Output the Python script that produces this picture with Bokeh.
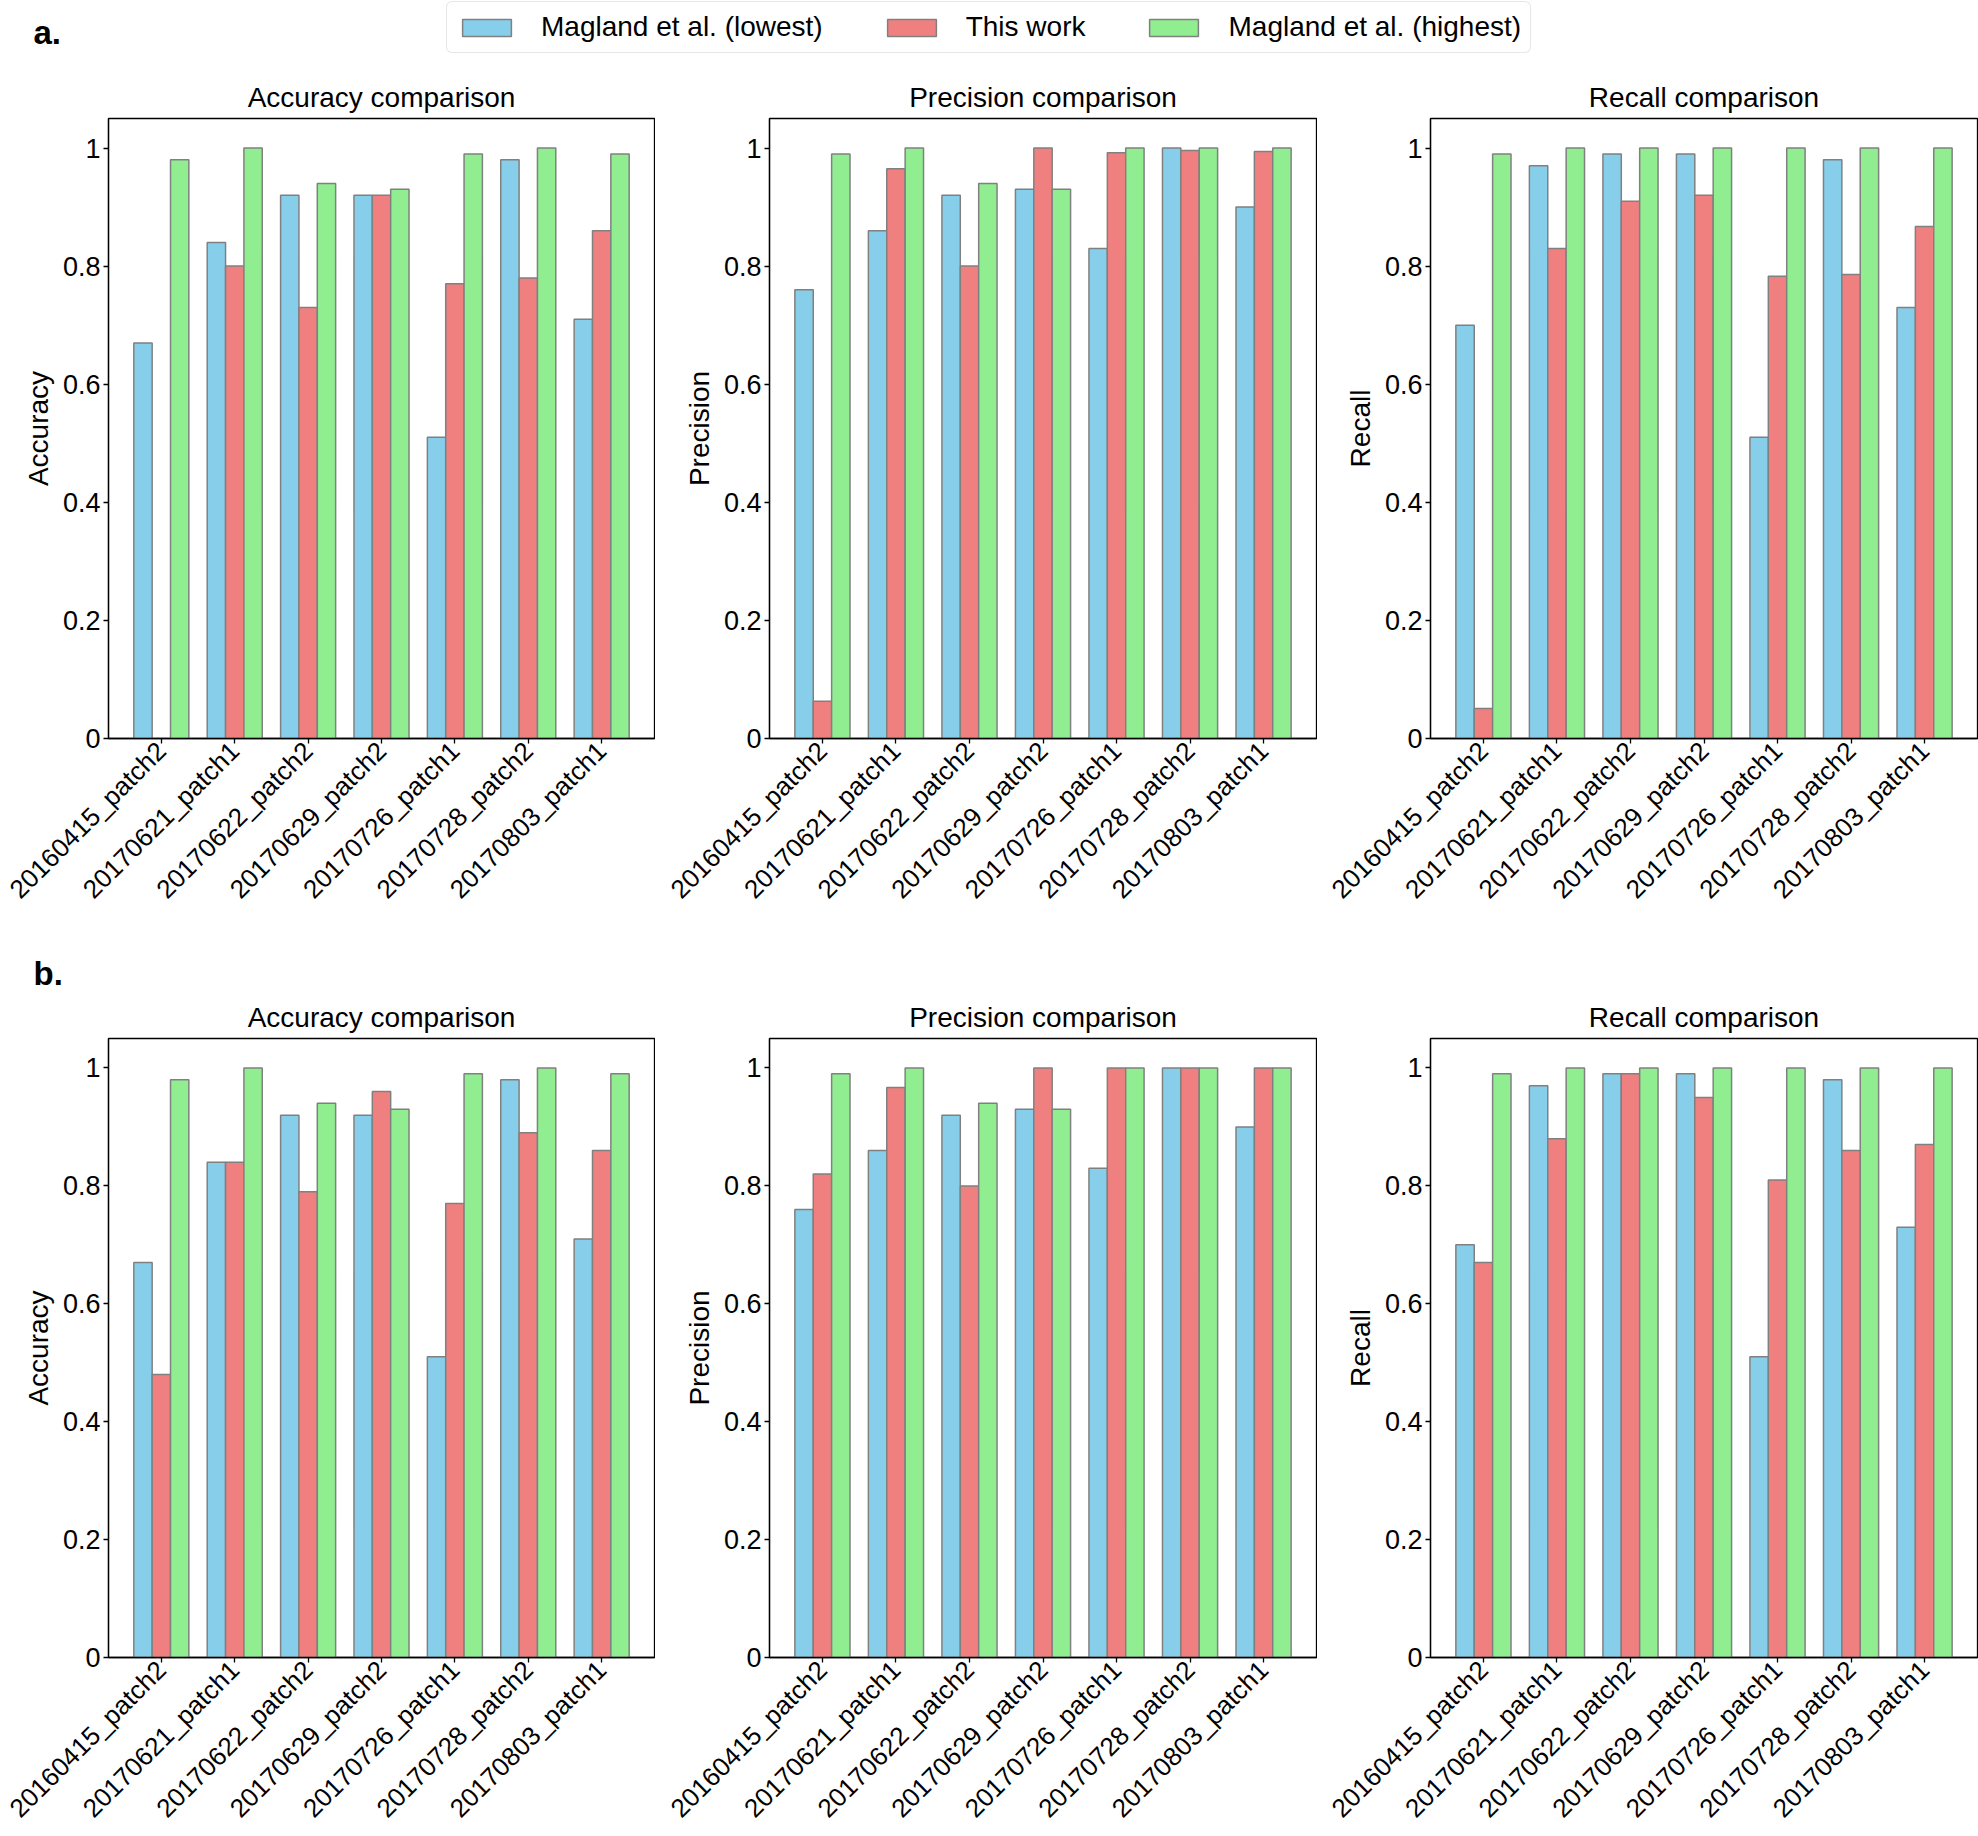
import math
import numpy as np
from bokeh.plotting import figure
from bokeh.models import (Range1d, FixedTicker, CustomJSTickFormatter, Legend,
                          LegendItem, Label)
from bokeh.layouts import column, row
from bokeh.embed import file_html
from bokeh.resources import INLINE

NAN = float("nan")

categories = ["20160415_patch2", "20170621_patch1", "20170622_patch2",
              "20170629_patch2", "20170726_patch1", "20170728_patch2",
              "20170803_patch1"]
series_names = ["Magland et al. (lowest)", "This work", "Magland et al. (highest)"]

# ---- panel a ----
a_acc_lowest = [0.67, 0.84, 0.92, 0.92, 0.51, 0.98, 0.71]
a_acc_this = [NAN, 0.80, 0.73, 0.92, 0.77, 0.78, 0.86]
a_acc_highest = [0.98, 1.0, 0.94, 0.93, 0.99, 1.0, 0.99]

a_prec_lowest = [0.76, 0.86, 0.92, 0.93, 0.83, 1.0, 0.90]
a_prec_this = [0.063, 0.965, 0.80, 1.0, 0.992, 0.996, 0.994]
a_prec_highest = [0.99, 1.0, 0.94, 0.93, 1.0, 1.0, 1.0]

a_rec_lowest = [0.70, 0.97, 0.99, 0.99, 0.51, 0.98, 0.73]
a_rec_this = [0.051, 0.83, 0.91, 0.92, 0.783, 0.786, 0.867]
a_rec_highest = [0.99, 1.0, 1.0, 1.0, 1.0, 1.0, 1.0]

# ---- panel b ----
b_acc_lowest = [0.67, 0.84, 0.92, 0.92, 0.51, 0.98, 0.71]
b_acc_this = [0.48, 0.84, 0.79, 0.96, 0.77, 0.89, 0.86]
b_acc_highest = [0.98, 1.0, 0.94, 0.93, 0.99, 1.0, 0.99]

b_prec_lowest = [0.76, 0.86, 0.92, 0.93, 0.83, 1.0, 0.90]
b_prec_this = [0.82, 0.967, 0.80, 1.0, 1.0, 1.0, 1.0]
b_prec_highest = [0.99, 1.0, 0.94, 0.93, 1.0, 1.0, 1.0]

b_rec_lowest = [0.70, 0.97, 0.99, 0.99, 0.51, 0.98, 0.73]
b_rec_this = [0.67, 0.88, 0.99, 0.95, 0.81, 0.86, 0.87]
b_rec_highest = [0.99, 1.0, 1.0, 1.0, 1.0, 1.0, 1.0]

ytick_values = [0, 0.2, 0.4, 0.6, 0.8, 1]

COLORS = ["#87CEEB", "#F08080", "#90EE90"]
EDGE = "#808080"
FONT = "Liberation Sans"
BAR_W = 0.25
OFFSETS = [-0.25, 0.0, 0.25]
TOTAL_W = 1978


def make_panel(title, ylabel, series, width, border_left, height, border_top,
               border_bottom):
    p = figure(width=width, height=height,
               x_range=Range1d(-0.72, 6.72), y_range=Range1d(0, 1.05),
               output_backend="svg", toolbar_location=None,
               min_border_left=border_left, min_border_right=1,
               min_border_top=border_top, min_border_bottom=border_bottom,
               title=title)
    idx = np.arange(len(categories))
    for vals, color, off in zip(series, COLORS, OFFSETS):
        p.vbar(x=idx + off, top=np.array(vals, dtype=float), bottom=0,
               width=BAR_W, fill_color=color, line_color=EDGE, line_width=1.5)
    p.grid.visible = False
    p.outline_line_color = "black"
    p.outline_line_width = 1.3
    p.outline_line_alpha = 1.0
    p.background_fill_color = "white"
    p.border_fill_color = "white"

    p.title.text_font = FONT
    p.title.text_font_size = "28px"
    p.title.text_font_style = "normal"
    p.title.text_color = "black"
    p.title.align = "center"
    p.title.standoff = 11

    xa = p.xaxis[0]
    xa.ticker = FixedTicker(ticks=list(range(len(categories))))
    xa.formatter = CustomJSTickFormatter(args=dict(labels=categories),
                                         code="return labels[Math.round(tick)];")
    xa.major_label_orientation = math.pi / 4
    xa.major_label_text_font_size = "26px"

    ya = p.yaxis[0]
    ya.ticker = FixedTicker(ticks=ytick_values)
    ya.formatter = CustomJSTickFormatter(code="return String(tick);")
    ya.major_label_text_font_size = "27px"
    ya.axis_label = ylabel
    ya.axis_label_standoff = 6
    ya.axis_label_text_font = FONT
    ya.axis_label_text_font_size = "28px"
    ya.axis_label_text_font_style = "normal"
    ya.axis_label_text_color = "black"

    for ax in (xa, ya):
        ax.major_label_text_font = FONT
        ax.major_label_text_color = "black"
        ax.major_tick_out = 5
        ax.major_tick_in = 0
        ax.minor_tick_line_color = None
        ax.major_label_standoff = 3
        ax.axis_line_color = "black"
        ax.axis_line_width = 1.3
        ax.major_tick_line_color = "black"
        ax.major_tick_line_width = 1.3
    return p


def spacer_label(text, height, bottom_from_bottom):
    # data units equal pixels in this strip (frame == whole canvas)
    f = figure(width=TOTAL_W, height=height, x_range=Range1d(0, TOTAL_W),
               y_range=Range1d(0, height), output_backend="svg",
               toolbar_location=None, min_border=0, x_axis_location=None,
               y_axis_location=None, outline_line_color=None)
    f.grid.visible = False
    f.add_layout(Label(x=33, y=bottom_from_bottom, text=text,
                       text_font=FONT, text_font_size="33px",
                       text_font_style="bold", text_color="black",
                       text_baseline="bottom"))
    return f


# ---- legend strip with "a." ----
top = spacer_label("a.", 68, 18)
items = []
for name, color in zip(series_names, COLORS):
    r = top.vbar(x=[0], top=[NAN], bottom=[0], width=1, fill_color=color,
                 line_color=EDGE, line_width=1.5)
    items.append(LegendItem(label=name, renderers=[r]))
legend = Legend(items=items, orientation="horizontal", location=(446, 15),
                glyph_width=61, glyph_height=21, label_standoff=24, spacing=58,
                padding=9, margin=0, label_text_font=FONT,
                label_text_font_size="28px", label_text_color="black",
                border_line_color="#d0d0d0", border_line_width=1.5,
                background_fill_color="white", background_fill_alpha=1.0)
if "border_radius" in Legend.properties():
    legend.border_radius = 6
top.add_layout(legend)

# ---- rows ----
widths = [655, 662, 661]
lefts = [108, 114, 113]
titles = ["Accuracy comparison", "Precision comparison", "Recall comparison"]
ylabels = ["Accuracy", "Precision", "Recall"]

a_series = [[a_acc_lowest, a_acc_this, a_acc_highest],
            [a_prec_lowest, a_prec_this, a_prec_highest],
            [a_rec_lowest, a_rec_this, a_rec_highest]]
b_series = [[b_acc_lowest, b_acc_this, b_acc_highest],
            [b_prec_lowest, b_prec_this, b_prec_highest],
            [b_rec_lowest, b_rec_this, b_rec_highest]]

row_a = row([make_panel(t, yl, s, w, l, 849, 50, 179)
             for t, yl, s, w, l in zip(titles, ylabels, a_series, widths, lefts)])
mid = spacer_label("b.", 75, 1)
row_b = row([make_panel(t, yl, s, w, l, 844, 46, 178)
             for t, yl, s, w, l in zip(titles, ylabels, b_series, widths, lefts)])

page = column(top, row_a, mid, row_b)
open("out.html", "w").write(file_html(page, INLINE))
